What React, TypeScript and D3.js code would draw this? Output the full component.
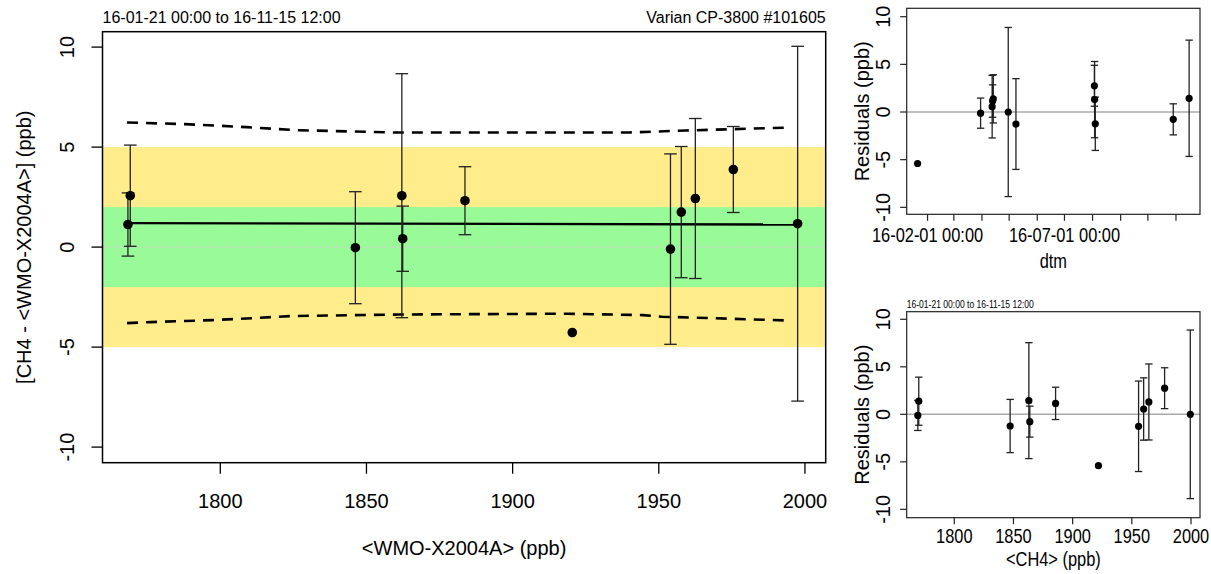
import React from "react";
import * as d3 from "d3";

// reference values (ppb) per cylinder
const wmo = [1768.4, 1769.2, 1846.2, 1862.1, 1862.4, 1883.7, 1920.4, 1954.0, 1957.7, 1962.5, 1975.5, 1997.5];
const diff = [1.13, 2.57, -0.03, 2.57, 0.42, 2.32, -4.27, -0.1, 1.75, 2.43, 3.88, 1.17];
const unc = [1.58, 2.53, 2.8, 6.1, 1.63, 1.7, null, 4.76, 3.28, 4.0, 2.15, 8.87];
const ch4 = [1769.2, 1770.0, 1847.2, 1863.0, 1863.8, 1885.6, 1921.8, 1955.7, 1960.0, 1964.4, 1977.7, 1999.4];
const resid = [-0.12, 1.38, -1.23, 1.44, -0.77, 1.15, -5.4, -1.26, 0.56, 1.3, 2.75, 0.0];
const dtm = [
  "2016-03-30 12:00", "2016-04-13 12:00", "2016-08-04 00:00", "2016-11-15 12:00",
  "2016-10-29 00:00", "2016-04-12 18:00", "2016-01-21 00:00", "2016-05-08 12:00",
  "2016-04-12 06:00", "2016-08-03 06:00", "2016-08-03 00:00", "2016-04-30 00:00",
];

const fitX = [1768.4, 1997.5];
const fitY = [1.2, 1.13];
const upperX = [1768.1, 1787.7, 1809.0, 1825.3, 1859.6, 1939.7, 1959.3, 1995.3];
const upperY = [6.23, 6.15, 6.0, 5.85, 5.73, 5.73, 5.83, 5.98];
const lowerX = [1768.1, 1776.3, 1797.5, 1809.0, 1823.7, 1861.3, 1918.5, 1944.6, 1951.1, 1994.4];
const lowerY = [-3.8, -3.75, -3.65, -3.57, -3.45, -3.37, -3.33, -3.4, -3.48, -3.67];

const yTicks = [-10, -5, 0, 5, 10];
const xTicks = [1800, 1850, 1900, 1950, 2000];
const dateLabels = ["2016-02-01", "2016-07-01"];

const FONT = "'Liberation Sans', Arial, Helvetica, sans-serif";
const parse = d3.utcParse("%Y-%m-%d %H:%M");
const fmt = d3.utcFormat("%y-%m-%d %H:%M");

function ErrBars({ xs, ys, es, x, y, cap, w }) {
  return (
    <g stroke="#222" strokeWidth={w} fill="none">
      {xs.map((xv, i) => {
        if (es[i] == null) return null;
        const cx = x(xv);
        const y1 = y(ys[i] + es[i]);
        const y2 = y(ys[i] - es[i]);
        return (
          <g key={i}>
            <line x1={cx} x2={cx} y1={y1} y2={y2} />
            <line x1={cx - cap} x2={cx + cap} y1={y1} y2={y1} />
            <line x1={cx - cap} x2={cx + cap} y1={y2} y2={y2} />
          </g>
        );
      })}
    </g>
  );
}

function MainPlot() {
  const x = d3.scaleLinear().domain([1759.7, 2007.1]).range([102.5, 825.7]);
  const y = d3.scaleLinear().domain([-10.78, 10.77]).range([462.7, 31.7]);
  const [x0, x1] = x.range();
  const [yb, yt] = y.range();
  const line = d3.line().x((d) => x(d[0])).y((d) => y(d[1]));
  const upper = upperX.map((v, i) => [v, upperY[i]]);
  const lower = lowerX.map((v, i) => [v, lowerY[i]]);
  const fit = fitX.map((v, i) => [v, fitY[i]]);

  return (
    <g fontFamily={FONT}>
      <rect x={x0} width={x1 - x0} y={y(5)} height={y(-5) - y(5)} fill="#FFEC8B" />
      <rect x={x0} width={x1 - x0} y={y(2)} height={y(-2) - y(2)} fill="#98FB98" />
      <line x1={x0} x2={x1} y1={y(0)} y2={y(0)} stroke="#d0d0d0" strokeWidth={1.2} strokeDasharray="4,4" />
      <path d={line(upper)} fill="none" stroke="#000" strokeWidth={2.6} strokeDasharray="11,8" />
      <path d={line(lower)} fill="none" stroke="#000" strokeWidth={2.6} strokeDasharray="11,8" />
      <path d={line(fit)} fill="none" stroke="#000" strokeWidth={2.4} />
      <ErrBars xs={wmo} ys={diff} es={unc} x={x} y={y} cap={6.3} w={1.3} />
      {wmo.map((v, i) => (
        <circle key={i} cx={x(v)} cy={y(diff[i])} r={4.8} fill="#000" />
      ))}
      <rect x={x0} y={yt} width={x1 - x0} height={yb - yt} fill="none" stroke="#000" strokeWidth={1.5} />
      {xTicks.map((t) => (
        <g key={t}>
          <line x1={x(t)} x2={x(t)} y1={yb} y2={yb + 11} stroke="#000" strokeWidth={1.3} />
          <text x={x(t)} y={508} fontSize={20} textAnchor="middle">{t}</text>
        </g>
      ))}
      {yTicks.map((t) => (
        <g key={t}>
          <line x1={x0 - 11} x2={x0} y1={y(t)} y2={y(t)} stroke="#000" strokeWidth={1.3} />
          <text transform={`translate(74,${y(t)}) rotate(-90)`} fontSize={20} textAnchor="middle">{t}</text>
        </g>
      ))}
      <text x={(x0 + x1) / 2} y={555} fontSize={20} textAnchor="middle">{"<WMO-X2004A> (ppb)"}</text>
      <text transform={`translate(30.5,${(yt + yb) / 2}) rotate(-90)`} fontSize={20} textAnchor="middle">
        {"[CH4 - <WMO-X2004A>] (ppb)"}
      </text>
      <text x={x0} y={23} fontSize={16}>{"16-01-21 00:00 to 16-11-15 12:00"}</text>
      <text x={x1} y={23} fontSize={16} textAnchor="end">{"Varian CP-3800 #101605"}</text>
    </g>
  );
}

function ResidPlot({ x, y, xs, tickVals, tickLabels, labelY, xLabel, xLabelY, sub }) {
  const [x0, x1] = x.range();
  const [yb, yt] = y.range();
  const sq = 0.8;
  return (
    <g fontFamily={FONT}>
      <line x1={x0} x2={x1} y1={y(0)} y2={y(0)} stroke="#aaa" strokeWidth={1.4} />
      <ErrBars xs={xs} ys={resid} es={unc} x={x} y={y} cap={3.7} w={1.3} />
      {xs.map((v, i) => (
        <circle key={i} cx={x(v)} cy={y(resid[i])} r={3.6} fill="#000" />
      ))}
      <rect x={x0} y={yt} width={x1 - x0} height={yb - yt} fill="none" stroke="#222" strokeWidth={1.2} />
      {tickVals.map((t, i) => (
        <line key={i} x1={x(t)} x2={x(t)} y1={yb} y2={yb + 6.5} stroke="#222" strokeWidth={1.2} />
      ))}
      {tickLabels.map((d, i) => (
        <text key={i} transform={`translate(${x(d.v)},${labelY}) scale(${sq},1)`} fontSize={20.5} textAnchor="middle">
          {d.s}
        </text>
      ))}
      {yTicks.map((t) => (
        <g key={t}>
          <line x1={x0 - 6.5} x2={x0} y1={y(t)} y2={y(t)} stroke="#222" strokeWidth={1.2} />
          <text transform={`translate(890,${y(t)}) rotate(-90)`} fontSize={20} textAnchor="middle">{t}</text>
        </g>
      ))}
      <text transform={`translate(869,${(yt + yb) / 2}) rotate(-90)`} fontSize={20} textAnchor="middle">
        Residuals (ppb)
      </text>
      <text transform={`translate(${(x0 + x1) / 2},${xLabelY}) scale(${sq},1)`} fontSize={20.5} textAnchor="middle">
        {xLabel}
      </text>
      {sub && (
        <text transform={`translate(${x0},${yt - 4}) scale(${sq},1)`} fontSize={10.7}>{sub}</text>
      )}
    </g>
  );
}

export default function App() {
  const dates = dtm.map((s) => parse(s));
  const xD = d3.scaleUtc().domain([new Date(Date.UTC(2016, 0, 9)), new Date(Date.UTC(2016, 10, 27, 12))]).range([906.7, 1200]);
  const yD = d3.scaleLinear().domain([-10.73, 10.88]).range([214.3, 8.3]);
  const monthTicks = d3.utcMonth.range(new Date(Date.UTC(2016, 1, 1)), new Date(Date.UTC(2016, 10, 2)));
  const dLabels = dateLabels.map((s) => {
    const v = d3.utcParse("%Y-%m-%d")(s);
    return { v, s: fmt(v) };
  });

  const xC = d3.scaleLinear().domain([1759.8, 2007.6]).range([906.7, 1200]);
  const yC = d3.scaleLinear().domain([-10.88, 10.8]).range([517.7, 311.7]);

  return (
    <svg width={1211} height={574} style={{ position: "absolute", left: 0, top: 0, background: "#fff" }}>
      <rect width={1211} height={574} fill="#fff" />
      <MainPlot />
      <ResidPlot x={xD} y={yD} xs={dates} tickVals={monthTicks} tickLabels={dLabels} labelY={242} xLabel="dtm" xLabelY={268} />
      <ResidPlot
        x={xC}
        y={yC}
        xs={ch4}
        tickVals={xTicks}
        tickLabels={xTicks.map((t) => ({ v: t, s: String(t) }))}
        labelY={543}
        xLabel="<CH4> (ppb)"
        xLabelY={566}
        sub="16-01-21 00:00 to 16-11-15 12:00"
      />
    </svg>
  );
}
